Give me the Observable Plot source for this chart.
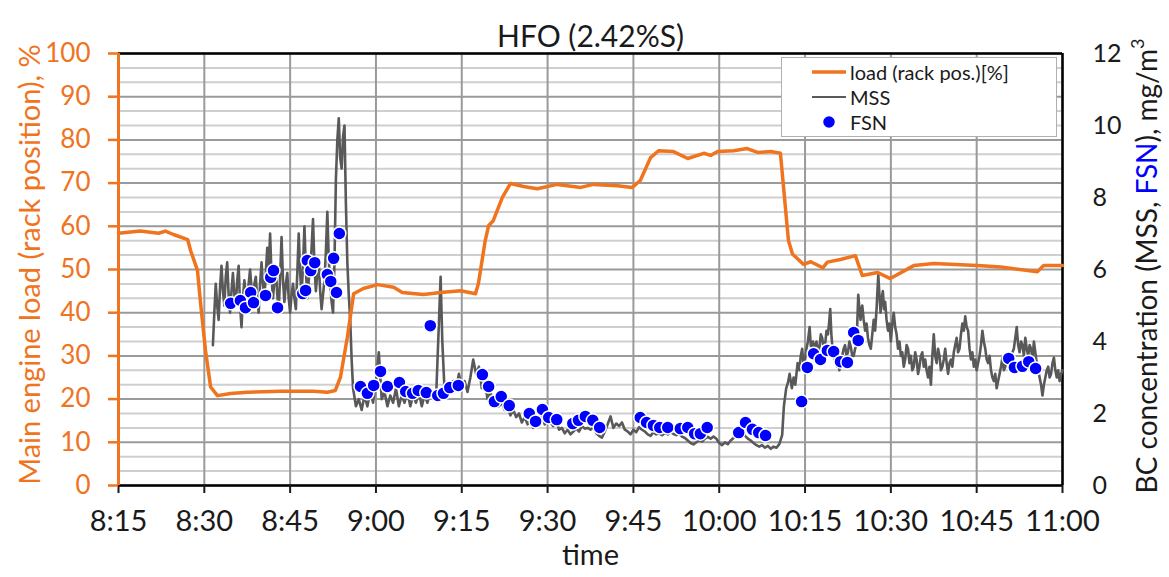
<!DOCTYPE html>
<html><head><meta charset="utf-8">
<script src="https://cdn.jsdelivr.net/npm/d3@7"></script>
<script src="https://cdn.jsdelivr.net/npm/@observablehq/plot@0.6"></script>
<style>
body{margin:0;background:#fff;font-family:Lato,sans-serif;}
#wrap{position:relative;width:1169px;height:577px;overflow:hidden;}
#legend{position:absolute;left:781px;top:57px;width:276px;height:80px;background:#fff;border:1.5px solid #b0b0b0;box-sizing:border-box;font-size:20px;color:#1a1a1a;}
#legend .row{position:absolute;left:0;height:24px;display:flex;align-items:center;}
#legend svg{width:66px;height:24px;}
</style></head><body><div id="wrap"></div>
<script>
// x positions are minutes after 8:15
const tickMin = [0,15,30,45,60,75,90,105,120,135,150,165];
const tickLabels = ["8:15","8:30","8:45","9:00","9:15","9:30","9:45","10:00","10:15","10:30","10:45","11:00"];
const loadTicks = [0,10,20,30,40,50,60,70,80,90,100];
const bcTicks = [0,2,4,6,8,10,12];
const bcMax = 12;

// main engine load (rack position), %
const load = [[0,58.4],[3.8,58.9],[7.0,58.4],[8.2,58.9],[9.6,58.1],[12.1,56.9],[12.6,54.4],[13.8,49.8],[14.3,42.8],[15.2,31.3],[16.1,22.8],[17.3,20.8],[19.6,21.3],[22.5,21.6],[28.3,21.8],[34.1,21.8],[36.5,21.6],[37.9,22],[38.8,25.1],[40.0,34.3],[41.1,44.4],[42.8,45.6],[45.3,46.5],[48.1,45.9],[49.6,44.7],[53.3,44.2],[56.3,44.7],[59.8,45.1],[62.4,44.4],[62.9,46.7],[64.1,56.7],[64.7,60.2],[65.5,61.3],[67.1,66.7],[68.5,69.9],[70.8,69.2],[73.2,68.7],[76.7,69.7],[80.8,69.0],[83.0,69.7],[87.2,69.4],[89.8,69.0],[91.2,70.6],[93.0,75.9],[94.4,77.5],[97.0,77.3],[99.5,75.7],[102.3,76.9],[103.5,76.4],[104.7,77.3],[107.5,77.5],[109.9,78.0],[111.7,77.1],[114.0,77.3],[115.7,76.9],[117.1,56.7],[117.8,53.6],[119.7,51.2],[121.0,51.8],[123.1,50.4],[123.9,51.7],[126.2,52.3],[128.8,53.2],[130.0,48.6],[132.7,49.3],[134.9,47.9],[139.0,50.9],[142.5,51.4],[150.1,50.9],[154.2,50.6],[160.6,49.5],[161.7,50.9],[165,50.9]];

// MSS black carbon, mg/m3
const mss = [[16.5,3.9],[16.75,4.8],[17,5.6],[17.25,5.0],[17.5,4.6],[17.75,5.5],[18,6.1],[18.25,5.4],[18.5,5.0],[18.75,5.8],[19,6.2],[19.25,5.3],[19.5,4.8],[19.75,5.4],[20,5.9],[20.25,5.3],[20.5,5.0],[20.75,5.7],[21,6.1],[21.25,5.0],[21.5,4.4],[21.75,5.2],[22,5.7],[22.25,5.3],[22.5,4.9],[22.75,5.6],[23,6.0],[23.25,5.5],[23.5,5.1],[23.75,5.6],[24,5.8],[24.25,5.2],[24.5,4.8],[24.75,5.6],[25,6.2],[25.25,5.6],[25.5,5.2],[25.75,5.9],[26,6.6],[26.25,6.0],[26.5,7.0],[26.75,5.8],[27,5.2],[27.25,5.7],[27.5,6.0],[27.75,5.3],[28,4.9],[28.25,5.8],[28.5,6.9],[28.75,5.7],[29,5.1],[29.25,5.6],[29.5,5.9],[29.75,5.2],[30,4.8],[30.25,5.3],[30.5,5.6],[30.75,5.2],[31,4.9],[31.25,5.9],[31.5,7.0],[31.75,5.9],[32,5.3],[32.25,6.1],[32.5,7.2],[32.75,6.0],[33,5.2],[33.25,5.7],[33.5,6.0],[33.75,6.6],[34,7.4],[34.25,6.1],[34.5,5.4],[34.75,5.9],[35,6.2],[35.25,5.4],[35.5,4.9],[35.75,5.3],[36,5.7],[36.25,6.5],[36.5,7.6],[36.75,6.3],[37,5.6],[37.25,5.1],[37.5,4.8],[37.75,6.2],[38,8.5],[38.25,9.6],[38.5,10.2],[38.75,9.1],[39,8.8],[39.25,9.7],[39.5,10.0],[39.75,7.8],[40,6.2],[40.25,5.3],[40.5,4.6],[40.75,3.5],[41,2.7],
[41.5,2.2],[42,2.4],[42.5,2.1],[43,2.5],[43.5,2.2],[44,2.6],[44.5,2.3],[45,2.9],[45.5,3.7],[46,2.4],[46.5,2.6],[47,2.2],[47.5,2.5],[48,2.3],[48.5,2.7],[49,2.2],[49.5,2.5],[50,2.3],[50.5,2.6],[51,2.2],[51.5,2.5],[52,2.3],[52.5,2.6],[53,2.2],[53.5,2.5],[54,2.3],[54.5,2.6],[55,2.4],[55.5,2.4],[56,4.5],[56.3,5.8],[56.6,4.0],[57,2.6],
[57.5,2.8],[58,2.6],[58.5,2.9],[59,2.7],[59.5,3.1],[60,2.7],[60.5,2.9],[61,2.6],[61.5,3.0],[62,3.5],[62.5,3.1],[63,3.3],[63.5,2.7],[64,2.9],[64.5,2.4],[65,2.6],[65.5,2.3],[66,2.5],[66.5,2.2],[67,2.3],[67.5,2.1],[68,2.2],[68.5,1.95],[69,2.1],[69.5,1.9],[70,2.0],[70.5,1.75],[71,1.9],[71.5,1.7],[72,1.8],[72.5,1.6],[73,1.75],[73.5,1.85],[74,1.95],[74.5,1.7],[75,1.85],[75.5,1.75],[76,1.65],[76.5,1.8],[77,1.55],[77.5,1.6],[78,1.45],[78.5,1.55],[79,1.42],[79.5,1.5],[80,1.58],[80.5,1.5],[81,1.65],[81.5,1.58],[82,1.6],[82.5,1.55],[83,1.62],[83.5,1.45],[84,1.38],[84.5,1.33],[85,1.5],[85.5,1.7],[86,1.92],[86.5,1.6],[87,1.72],[87.5,1.65],[88,1.75],[88.5,1.55],[89,1.5],[89.5,1.42],[90,1.55],[90.5,1.48],[91,1.62],[91.5,1.55],[92,1.5],[92.5,1.42],[93,1.38],[93.5,1.48],[94,1.42],[94.5,1.45],[95,1.4],[95.5,1.46],[96,1.42],[96.5,1.48],[97,1.43],[97.5,1.4],[98,1.45],[98.5,1.36],[99,1.32],[99.5,1.25],[100,1.18],[100.5,1.14],[101,1.2],[101.5,1.26],[102,1.22],[102.5,1.3],[103,1.35],[103.5,1.3],[104,1.36],[104.5,1.3],[105,1.18],[105.5,1.12],[106,1.2],[106.5,1.15],[107,1.25],[107.5,1.32],[108,1.45],[108.5,1.42],[109,1.5],[109.5,1.38],[110,1.3],[110.5,1.25],[111,1.18],[111.5,1.12],[112,1.08],[112.5,1.12],[113,1.05],[113.5,1.1],[114,1.02],[114.5,1.08],[115,1.05],[115.5,1.15],
[116,1.4],[116.3,2.2],[116.7,2.7],[117,2.85],[117.3,3.1],[117.7,2.7],[118,3.0],[118.3,2.8],[118.7,3.4],[119,3.2],[119.25,3.6],[119.5,3.8],[119.75,3.3],[120,3.5],[120.25,3.8],[120.5,4.0],[120.8,4.4],[121,3.9],[121.2,3.7],[121.4,4.0],[121.6,3.65],[121.8,3.9],[122,4.0],[122.25,3.7],[122.5,3.8],[122.75,4.2],[123,4.1],[123.25,3.8],[123.5,3.9],[123.75,4.3],[124,4.2],[124.2,4.5],[124.4,4.9],[124.6,4.2],[124.8,3.8],[125,3.6],[125.2,3.5],[125.4,3.4],[125.6,3.3],[125.8,3.5],[126,3.2],[126.25,3.5],[126.5,3.6],[126.75,3.8],[127,3.9],[127.25,3.6],[127.5,3.7],[127.75,4.0],[128,3.85],[128.25,3.6],[128.5,3.6],[128.75,3.8],[129,3.9],[129.15,4.6],[129.3,5.3],[129.5,4.9],[129.7,4.6],[129.85,4.9],[130,5.0],[130.25,4.6],[130.5,4.3],[130.75,4.5],[131,4.1],[131.25,3.9],[131.5,3.8],[131.75,4.2],[132,4.6],[132.25,4.3],[132.5,4.9],[132.65,5.4],[132.8,5.85],[133,5.3],[133.2,4.8],[133.4,5.2],[133.6,5.4],[133.8,4.9],[134,5.1],[134.25,4.6],[134.5,4.3],[134.75,4.5],
[135,4.0],[135.25,4.5],[135.5,4.8],[135.75,4.4],[136,4.2],[136.25,3.8],[136.5,4.0],[136.75,3.6],[137,3.7],[137.25,3.3],[137.5,3.5],[137.75,3.9],[138,3.8],[138.25,3.4],[138.5,3.6],[138.75,3.2],[139,3.3],[139.25,3.7],[139.5,3.5],[139.75,3.1],[140,3.3],[140.25,3.6],[140.5,3.7],[140.75,3.3],[141,3.5],[141.25,3.2],[141.5,3.0],[141.75,3.3],[142,2.8],[142.25,3.6],[142.5,4.2],[142.75,3.6],[143,3.4],[143.25,3.8],[143.5,3.6],[143.75,3.2],[144,3.3],[144.25,3.5],[144.5,3.8],[144.75,3.4],[145,3.1],[145.25,3.4],[145.5,3.5],[145.75,3.3],[146,3.7],[146.25,3.9],[146.5,4.1],[146.75,3.7],[147,3.8],[147.25,4.2],[147.5,4.5],[147.75,4.3],[148,4.7],[148.25,4.4],[148.5,4.3],[148.75,3.8],[149,3.5],[149.25,3.7],[149.5,3.3],[149.75,3.5],[150,3.2],[150.25,3.4],[150.5,3.6],[150.75,3.9],[151,4.3],[151.25,4.0],[151.5,3.8],[151.75,3.5],[152,3.4],[152.25,3.6],[152.5,3.2],[152.75,3.0],[153,2.9],[153.25,3.1],[153.5,2.7],[153.75,2.9],[154,3.1],[154.25,3.3],[154.5,3.55],[154.75,3.2],[155,3.3],[155.25,3.6],[155.5,3.6],[155.75,3.3],[156,3.5],[156.25,3.7],[156.5,3.8],[156.75,4.1],[157,4.4],[157.25,3.9],[157.5,3.7],[157.75,4.0],[158,3.9],[158.25,3.6],[158.5,4.1],[158.75,3.8],[159,3.6],[159.25,3.9],[159.5,3.8],[159.75,3.5],[160,4.0],[160.25,3.7],[160.5,3.4],[160.75,3.2],[161,3.0],[161.25,2.8],[161.5,2.5],[161.75,2.8],[162,3.0],[162.25,3.2],[162.5,3.3],[162.75,3.0],[163,3.1],[163.25,3.4],[163.5,3.55],[163.75,3.2],[164,3.0],[164.25,3.2],[164.5,2.9],[164.75,3.1],[165,3.2]];

// FSN black carbon, mg/m3
const fsn = [[19.6,5.06],[21.3,5.14],[22.2,4.94],[23.1,5.36],[23.6,5.08],[25.7,5.28],[26.6,5.78],[27.1,5.97],[27.8,4.94],[32.2,5.33],[32.7,5.42],[33.0,6.25],[33.6,5.97],[34.3,6.19],[36.5,5.86],[37.1,5.67],[37.6,6.31],[38.1,5.36],[38.6,7.0],
[42.3,2.75],[43.5,2.56],[44.6,2.78],[45.8,3.17],[47.0,2.75],[49.1,2.86],[50.2,2.61],[51.4,2.56],[52.4,2.64],[53.8,2.58],[54.5,4.44],[55.8,2.50],[56.8,2.56],[57.9,2.72],[59.4,2.78],[63.6,3.08],[64.7,2.75],[65.7,2.33],[66.9,2.47],[68.3,2.22],[71.8,2.00],[72.9,1.78],[74.1,2.11],[75.2,1.89],[76.6,1.83],[79.4,1.72],[80.4,1.81],[81.6,1.92],[82.9,1.81],[84.1,1.61],
[91.2,1.89],[92.3,1.75],[93.5,1.67],[94.6,1.61],[96.0,1.61],[98.2,1.58],[99.5,1.61],[100.7,1.44],[101.7,1.44],[102.9,1.61],[108.4,1.47],[109.6,1.75],[110.8,1.56],[111.9,1.47],[113.1,1.39],
[119.4,2.33],[120.4,3.28],[121.5,3.66],[122.7,3.50],[123.9,3.75],[125.0,3.72],[126.2,3.44],[127.4,3.42],[128.5,4.25],[129.3,4.03],[155.6,3.53],[156.6,3.28],[158.0,3.31],[159.1,3.44],[160.3,3.25]];

const orange = "#F0731E";
const blue = "#0000FF";
const gray = "#595959";
const toLoad = c => c * 100 / bcMax;
const minorGrid = d3.range(0, 31).filter(k => k % 3 !== 0).map(k => k * 10 / 3);

const chart = Plot.plot({
  width: 1169, height: 577,
  marginTop: 53, marginBottom: 92, marginLeft: 118, marginRight: 107,
  style: {fontFamily: "Lato, sans-serif", background: "#fff", color: "#1a1a1a", overflow: "visible"},
  x: {type: "linear", domain: [0, 165]},
  y: {domain: [0, 100]},
  marks: [
    Plot.ruleY(minorGrid, {stroke: "#cfcfcf", strokeWidth: 2}),
    Plot.ruleY(loadTicks, {stroke: "#9a9a9a", strokeWidth: 2}),
    Plot.ruleX(tickMin, {stroke: "#9a9a9a", strokeWidth: 2}),
    Plot.ruleY([100], {stroke: "#000", strokeWidth: 2.5}),
    Plot.ruleX([165], {stroke: "#000", strokeWidth: 2.5}),
    Plot.line(mss, {x: d => d[0], y: d => toLoad(d[1]), stroke: gray, strokeWidth: 2.6}),
    Plot.line(load, {x: d => d[0], y: d => d[1], stroke: orange, strokeWidth: 3.5, curve: "linear"}),
    Plot.dot(fsn, {x: d => d[0], y: d => toLoad(d[1]), r: 6.5, fill: blue, stroke: "#fff", strokeWidth: 1.5}),
    Plot.ruleY([0], {stroke: "#000", strokeWidth: 2.5}),
    Plot.ruleX([0], {stroke: orange, strokeWidth: 3}),
    Plot.axisX({ticks: tickMin, tickFormat: d => tickLabels[tickMin.indexOf(d)], tickSize: 8, tickPadding: 17, fontSize: 29, color: "#1a1a1a", strokeWidth: 2, label: null}),
    Plot.axisY({anchor: "left", ticks: loadTicks, tickSize: 10, tickPadding: 18, fontSize: 26, color: orange, strokeWidth: 2.5, label: null}),
    Plot.axisY({anchor: "right", ticks: bcTicks.map(toLoad), tickFormat: d => String(Math.round(d * bcMax / 100)), tickSize: 0, tickPadding: 30, fontSize: 25, color: "#1a1a1a", label: null}),
    Plot.text(["HFO (2.42%S)"], {frameAnchor: "top", dy: -28, fontSize: 30, fill: "#1a1a1a"}),
    Plot.text(["time"], {frameAnchor: "bottom", dy: 79, fontSize: 29, fill: "#1a1a1a"}),
    Plot.text(["Main engine load (rack position), %"], {frameAnchor: "left", dx: -88, dy: -5, rotate: -90, textAnchor: "middle", fontSize: 29, fill: orange})
  ]
});

const wrap = document.getElementById("wrap");
wrap.appendChild(chart);

// right axis title with coloured FSN
const svg = d3.select(chart);
const rt = svg.append("text")
  .attr("transform", "translate(1150,266) rotate(-90)")
  .attr("text-anchor", "middle").attr("dominant-baseline", "middle")
  .attr("font-size", 28).attr("fill", "#1a1a1a");
rt.append("tspan").text("BC concentration (MSS, ");
rt.append("tspan").attr("fill", blue).text("FSN");
rt.append("tspan").text("), mg/m");
rt.append("tspan").attr("font-size", 18).attr("dy", -11).text("3");

// legend
const legendItems = [
  {label: "load (rack pos.)[%]", kind: "line", color: orange, width: 3.5},
  {label: "MSS", kind: "line", color: gray, width: 2},
  {label: "FSN", kind: "dot", color: blue}
];
const lg = document.createElement("div");
lg.id = "legend";
legendItems.forEach((it, i) => {
  const row = document.createElement("div");
  row.className = "row";
  row.style.top = (2 + i * 25) + "px";
  const sw = it.kind === "line"
    ? `<svg><line x1="30" x2="64" y1="12" y2="12" stroke="${it.color}" stroke-width="${it.width}"/></svg>`
    : `<svg><circle cx="47" cy="12" r="6.5" fill="${it.color}" stroke="#fff" stroke-width="1.5"/></svg>`;
  row.innerHTML = sw + `<span style="margin-left:2px">${it.label}</span>`;
  lg.appendChild(row);
});
wrap.appendChild(lg);
</script>
</body></html>
